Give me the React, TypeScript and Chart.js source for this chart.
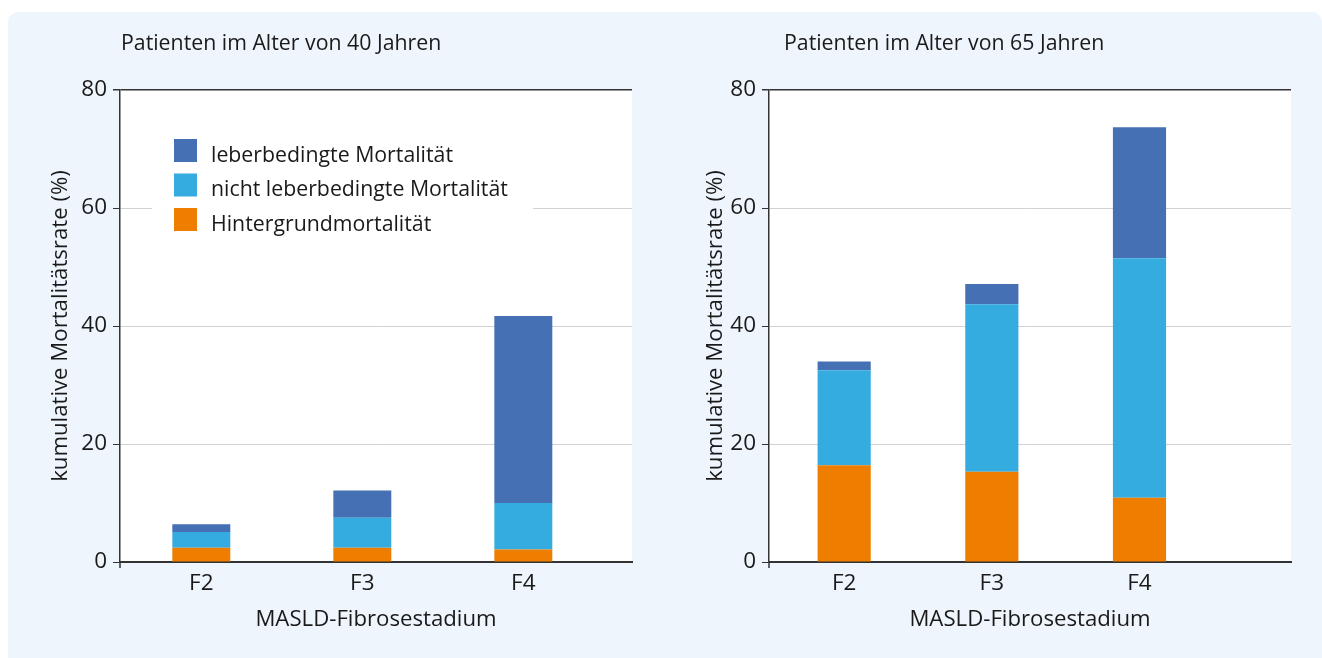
import React, { useEffect, useRef } from "react";
import { Chart, registerables } from "chart.js";

Chart.register(...registerables);

// ---- data ----
const categories = ["F2", "F3", "F4"];
const seriesLabels = [
  "Hintergrundmortalität",
  "nicht leberbedingte Mortalität",
  "leberbedingte Mortalität",
];
const seriesColors = ["#EF7D00", "#34ACE0", "#4570B4"];

const age40Background = [2.4, 2.4, 2.1];
const age40NonLiver = [2.7, 5.1, 7.9];
const age40Liver = [1.3, 4.6, 31.7];

const age65Background = [16.4, 15.3, 10.9];
const age65NonLiver = [16.1, 28.4, 40.6];
const age65Liver = [1.5, 3.4, 22.2];

const yTicks = [0, 20, 40, 60, 80];

const title40 = "Patienten im Alter von 40 Jahren";
const title65 = "Patienten im Alter von 65 Jahren";
const yTitle = "kumulative Mortalitätsrate (%)";
const xTitle = "MASLD-Fibrosestadium";

const FONT = '"Open Sans", "Noto Sans", sans-serif';
const TITLE_FS = 21.3;
const LEGEND_FS = 21.3;
const AXIS_TITLE_FS = 22.2;
const TICK_FS = 22.5;
const TEXT = "#1a1a1a";
const AXIS = "#333333";
const GRID = "#d2d2d2";
const PANEL = "#eef5fc";
const CANVAS_H = 646;

type Props = {
  left: number;
  width: number;
  axisWidth: number;
  padRight: number;
  yTitlePad: number;
  xMin: number;
  xMax: number;
  titleText: string;
  titleOffset: number;
  legend: boolean;
  series: number[][];
};

function StackedChart(p: Props) {
  const ref = useRef<HTMLCanvasElement>(null);

  useEffect(() => {
    const canvas = ref.current;
    if (!canvas) return;

    const decor = {
      id: "decor",
      beforeDraw(chart: any) {
        const { ctx, chartArea: a } = chart;
        ctx.save();
        ctx.fillStyle = "#ffffff";
        ctx.fillRect(a.left, a.top, a.right - a.left, a.bottom - a.top);
        ctx.restore();
      },
      beforeDatasetsDraw(chart: any) {
        if (!p.legend) return;
        const { ctx, chartArea: a } = chart;
        ctx.save();
        ctx.fillStyle = "#ffffff";
        ctx.fillRect(a.left + 32, a.top + 35, 381, 118);
        const ds = chart.data.datasets.slice().reverse();
        ds.forEach((d: any, i: number) => {
          const y = a.top + 49 + i * 34.5;
          ctx.fillStyle = d.backgroundColor;
          ctx.fillRect(a.left + 54, y, 23, 23);
          ctx.fillStyle = TEXT;
          ctx.font = `${LEGEND_FS}px ${FONT}`;
          ctx.textBaseline = "alphabetic";
          ctx.textAlign = "left";
          ctx.fillText(d.label, a.left + 91, y + 22.5);
        });
        ctx.restore();
      },
      afterDraw(chart: any) {
        const { ctx, chartArea: a } = chart;
        ctx.save();
        ctx.fillStyle = TEXT;
        ctx.font = `${TITLE_FS}px ${FONT}`;
        ctx.textBaseline = "alphabetic";
        ctx.textAlign = "left";
        ctx.fillText(p.titleText, a.left + p.titleOffset, 38);
        ctx.strokeStyle = AXIS;
        ctx.lineWidth = 1.5;
        ctx.beginPath();
        ctx.moveTo(a.left, a.bottom);
        ctx.lineTo(a.left, a.bottom + 6);
        ctx.stroke();
        ctx.restore();
      },
    };

    const chart = new Chart(canvas, {
      type: "bar",
      data: {
        datasets: p.series.map((vals, si) => ({
          label: seriesLabels[si],
          data: vals.map((v, i) => ({ x: i, y: v })),
          backgroundColor: seriesColors[si],
          borderWidth: 0,
          barPercentage: 0.36,
          categoryPercentage: 1,
        })),
      },
      options: {
        responsive: false,
        animation: false,
        events: [],
        layout: { padding: { top: 78, right: p.padRight, bottom: 22, left: 0 } },
        plugins: {
          legend: { display: false },
          title: { display: false },
          tooltip: { enabled: false },
        },
        font: { family: FONT, size: TICK_FS },
        scales: {
          x: {
            type: "linear",
            stacked: true,
            offset: false,
            bounds: "data",
            grace: 0,
            min: p.xMin,
            max: p.xMax,
            afterDataLimits(axis: any) {
              axis.min = p.xMin;
              axis.max = p.xMax;
            },
            afterBuildTicks(axis: any) {
              axis.ticks = categories.map((_, i) => ({ value: i }));
            },
            afterFit(scale: any) {
              scale.height = 74;
            },
            grid: { display: false, drawTicks: false, offset: false },
            border: { display: true, color: AXIS, width: 2 },
            ticks: {
              padding: 8.5,
              color: TEXT,
              font: { family: FONT, size: TICK_FS },
              maxRotation: 0,
              autoSkip: false,
              callback: (v: any) => categories[v as number] ?? "",
            },
            title: {
              display: true,
              text: xTitle,
              color: TEXT,
              font: { family: FONT, size: AXIS_TITLE_FS },
              padding: { top: 4, bottom: 3 },
            },
          },
          y: {
            stacked: true,
            min: yTicks[0],
            max: yTicks[yTicks.length - 1],
            afterBuildTicks(axis: any) {
              axis.ticks = yTicks.map((v) => ({ value: v }));
            },
            afterFit(scale: any) {
              scale.width = p.axisWidth;
            },
            grid: {
              color: (c: any) =>
                c.tick && c.tick.value === yTicks[yTicks.length - 1] ? AXIS : GRID,
              lineWidth: (c: any) =>
                c.tick && c.tick.value === yTicks[yTicks.length - 1] ? 1.5 : 1,
              tickColor: AXIS,
              tickLength: 7,
              drawTicks: true,
            },
            border: { display: true, color: AXIS, width: 1.5 },
            ticks: {
              padding: 6,
              color: TEXT,
              font: { family: FONT, size: TICK_FS },
            },
            title: {
              display: true,
              text: yTitle,
              color: TEXT,
              font: { family: FONT, size: AXIS_TITLE_FS },
              padding: { top: p.yTitlePad, bottom: 0 },
            },
          },
        },
      } as any,
      plugins: [decor],
    });

    return () => chart.destroy();
  }, []);

  return (
    <canvas
      ref={ref}
      width={p.width}
      height={CANVAS_H}
      style={{ position: "absolute", left: p.left, top: 0, display: "block" }}
    />
  );
}

export default function App() {
  return (
    <div
      style={{
        position: "fixed",
        left: 8,
        top: 12,
        width: 1314,
        height: CANVAS_H,
        background: PANEL,
        borderRadius: "10px 10px 0 0",
        overflow: "hidden",
      }}
    >
      <StackedChart
        left={0}
        width={652}
        axisWidth={112}
        padRight={28}
        yTitlePad={39.7}
        xMin={-0.505}
        xMax={2.675}
        titleText={title40}
        titleOffset={1}
        legend={true}
        series={[age40Background, age40NonLiver, age40Liver]}
      />
      <StackedChart
        left={652}
        width={662}
        axisWidth={109}
        padRight={31}
        yTitlePad={42.7}
        xMin={-0.509}
        xMax={3.026}
        titleText={title65}
        titleOffset={15}
        legend={false}
        series={[age65Background, age65NonLiver, age65Liver]}
      />
    </div>
  );
}
